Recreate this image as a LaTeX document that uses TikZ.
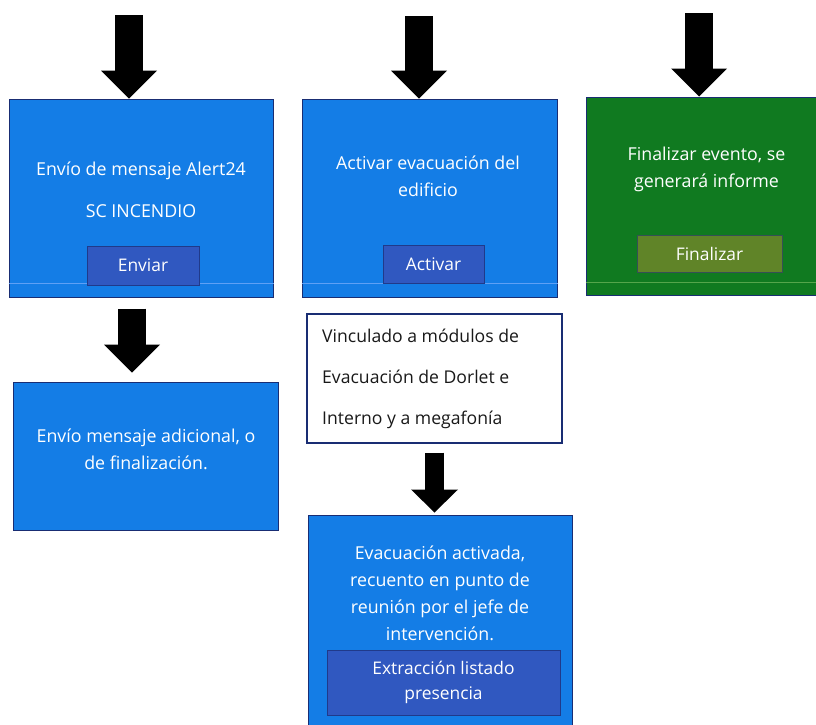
\documentclass[tikz,border=0pt]{standalone}
\usepackage{fontspec}
\setmainfont{Open Sans}
\usepackage{tikz}
\usetikzlibrary{arrows.meta,positioning}
\definecolor{BoxBlue}{RGB}{20,125,230}
\definecolor{BtnBlue}{RGB}{48,88,192}
\definecolor{EdgeNavy}{RGB}{25,45,115}
\definecolor{LineBlue}{RGB}{95,160,245}
\definecolor{BoxGreen}{RGB}{16,122,32}
\definecolor{BtnOlive}{RGB}{96,132,40}
\definecolor{LineGreen}{RGB}{85,165,75}
\tikzset{
    bluebox/.style={draw=EdgeNavy, line width=1pt, fill=BoxBlue, inner sep=0pt},
    greenbox/.style={draw=EdgeNavy, line width=1pt, fill=BoxGreen, inner sep=0pt},
    whitebox/.style={draw=EdgeNavy, line width=1.2pt, fill=white, inner sep=0pt},
    bluebtn/.style={draw=EdgeNavy!70!BtnBlue, line width=0.8pt, fill=BtnBlue, text=white, inner sep=0pt, align=center, font=\fontsize{17.4}{25}\selectfont},
    olivebtn/.style={draw=EdgeNavy!60!BtnOlive, line width=0.8pt, fill=BtnOlive, text=white, inner sep=0pt, align=center, font=\fontsize{17.4}{25}\selectfont},
    boxtext/.style={text=white, inner sep=0pt, align=center, font=\fontsize{17.8}{27}\selectfont},
    darktext/.style={text=black!90, inner sep=0pt, align=left, font=\fontsize{17.6}{41}\selectfont},
    footline/.style={line width=1.5pt, LineBlue},
    bigarr/.style={line width=28pt, -{Triangle[length=28pt,width=56pt,line width=0pt]}},
    smallarr/.style={line width=19pt, -{Triangle[length=23pt,width=47pt,line width=0pt]}},
}
\begin{document}
\begin{tikzpicture}[x=1pt,y=-1pt]
\useasboundingbox (0,0) rectangle (816,724);
% main boxes
\node[bluebox, minimum width=264pt, minimum height=198pt] (send) at (141,198) {};
\node[bluebox, minimum width=255pt, minimum height=198pt] (activate) at (429.5,198) {};
\node[greenbox, minimum width=234pt, minimum height=198pt] (finish) at (703,196) {};
\node[bluebox, minimum width=265pt, minimum height=148pt] (extra) at (145.5,456) {};
\node[whitebox, minimum width=255pt, minimum height=129pt] (linked) at (434.5,378.5) {};
\node[bluebox, minimum width=264pt, minimum height=225pt] (evac) at (440,627.5) {};

% light lines near the bottom
\draw[footline] ([yshift=14pt]send.south west) -- ([yshift=14pt]send.south east);
\draw[footline] ([yshift=14pt]activate.south west) -- ([yshift=14pt]activate.south east);
\draw[footline, LineGreen] ([yshift=13pt]finish.south west) -- ([yshift=13pt]finish.south east);

% texts
\node[boxtext] (sendtxt) at (141,190) {Envío de mensaje Alert24\\[15pt]SC INCENDIO};
\node[boxtext] (acttxt) at (428,176.5) {Activar evacuación del\\edificio};
\node[boxtext] (fintxt) at (706.5,169) {Finalizar evento, se\\generará informe};
\node[boxtext] (extratxt) at (146,449) {Envío mensaje adicional, o\\de finalización.};
\node[darktext, anchor=west] (linktxt) at (322,379) {Vinculado a módulos de\\Evacuación de Dorlet e\\Interno y a megafonía};
\node[boxtext] (evactxt) at (440,593) {Evacuación activada,\\recuento en punto de\\reunión por el jefe de\\intervención.};

% buttons
\node[bluebtn, minimum width=112pt, minimum height=39pt] (sendbtn) at (143,265.5) {Enviar};
\node[bluebtn, minimum width=101pt, minimum height=38pt] (actbtn) at (433.5,264) {Activar};
\node[olivebtn, minimum width=145pt, minimum height=37pt] (finbtn) at (709.5,253.5) {Finalizar};
\node[bluebtn, minimum width=233pt, minimum height=65pt] (listbtn) at (443.5,682.5) {Extracción listado\\presencia};

% arrows
\coordinate (in1) at (129,15);
\coordinate (in2) at (419,16);
\coordinate (in3) at (699,13);
\coordinate (down1) at (132,0);
\draw[bigarr] (in1) -- (in1 |- send.north);
\draw[bigarr] (in2) -- (in2 |- activate.north);
\draw[bigarr] (in3) -- (in3 |- finish.north);
\draw[bigarr, shorten <=11pt, shorten >=9pt] (down1 |- send.south) -- (down1 |- extra.north);
\draw[smallarr, shorten <=9pt, shorten >=2pt] (linked.south) -- (linked.south |- evac.north);
\end{tikzpicture}
\end{document}
